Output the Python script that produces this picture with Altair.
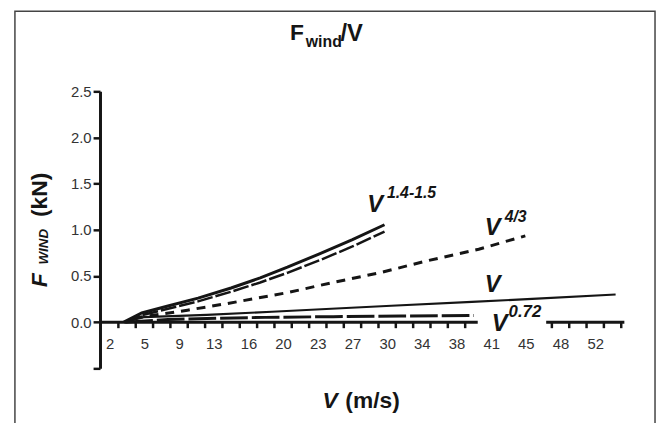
import json
import altair as alt
import pandas as pd

# ---- data (V on the chart's speed scale, F in kN) ----
v_hi = [3.45, 5.3, 8.0, 11.1, 14.5, 17.5, 20.3, 23.6, 27.0, 30.3]
f_hi = [0.0, 0.10, 0.175, 0.26, 0.37, 0.48, 0.595, 0.74, 0.895, 1.055]
v_lo = [3.6, 5.3, 8.0, 11.1, 14.5, 17.5, 20.3, 23.6, 27.0, 30.3]
f_lo = [0.0, 0.075, 0.145, 0.225, 0.33, 0.43, 0.535, 0.67, 0.82, 0.98]
v_43 = [4.5, 7.2, 10.0, 14.0, 20.3, 25.0, 30.0, 34.5, 40.0, 44.8]
f_43 = [0.045, 0.085, 0.13, 0.20, 0.32, 0.43, 0.54, 0.66, 0.79, 0.935]
v_1 = [3.5, 5.5, 12.0, 18.7, 24.3, 31.0, 39.3, 46.0, 54.1]
f_1 = [0.0, 0.055, 0.08, 0.113, 0.143, 0.178, 0.22, 0.255, 0.30]
v_072 = [3.6, 8.0, 13.0, 18.0, 25.0, 32.0, 39.5]
f_072 = [0.0, 0.03, 0.042, 0.052, 0.06, 0.066, 0.072]

x_labels = ["2", "5", "9", "13", "16", "20", "23", "27", "30", "34", "38", "41", "45", "48", "52"]
y_ticks = [-0.5, 0.0, 0.5, 1.0, 1.5, 2.0, 2.5]

# axis geometry (on the speed scale)
label_pos = [2 + i * 50 / 14 for i in range(len(x_labels))]
tick_pos = [2 + (k + 0.5) * 25 / 14 for k in range(30) if not 21 <= k <= 24]
axis_segments = pd.DataFrame({"a": [1.0, 46.95], "b": [39.9, 55.0]})

INK = "#151515"
FONT = "Liberation Sans"

xs = alt.Scale(domain=[1, 55], nice=False, zero=False)
ys = alt.Scale(domain=[-0.5, 2.5], nice=False, zero=False)

label_expr = json.dumps(x_labels) + "[round((datum.value - 2) * 14 / 50)]"

x_axis = alt.Axis(
    values=label_pos, labelExpr=label_expr, domain=False, ticks=False, grid=False,
    title=None, offset=-46.67, labelPadding=15, labelFontSize=15, labelColor="#333",
    labelFont=FONT,
)
y_axis = alt.Axis(
    values=y_ticks, labelExpr="datum.value < 0 ? '' : format(datum.value, '.1f')",
    domainWidth=3, domainColor=INK, tickWidth=2.5, tickSize=7, tickColor=INK,
    labelFontSize=15, labelColor="#333", labelPadding=2, labelFont=FONT,
    title=None, grid=False,
)


def series(v, f):
    return pd.DataFrame({"V": v, "F": f})


def line(v, f, **kw):
    return alt.Chart(series(v, f)).mark_line(color=INK, **kw).encode(
        x=alt.X("V:Q", scale=xs, axis=x_axis),
        y=alt.Y("F:Q", scale=ys, axis=y_axis),
    )


hi = line(v_hi, f_hi, strokeWidth=3)
lo = line(v_lo, f_lo, strokeWidth=2.5, strokeDash=[16, 3])
l43 = line(v_43, f_43, strokeWidth=3, strokeDash=[9, 7])
l1 = line(v_1, f_1, strokeWidth=2.2)
l072 = line(v_072, f_072, strokeWidth=3, strokeDash=[28, 4])

x_domain = alt.Chart(axis_segments).mark_rule(color=INK, strokeWidth=3).encode(
    x=alt.X("a:Q", scale=xs, axis=x_axis), x2="b:Q",
    y=alt.YDatum(0, scale=ys, axis=y_axis),
)
x_ticks = alt.Chart(pd.DataFrame({"t": tick_pos})).mark_rule(color=INK, strokeWidth=2.5).encode(
    x=alt.X("t:Q", scale=xs, axis=x_axis),
    y=alt.YDatum(0, scale=ys, axis=y_axis), y2=alt.Y2Datum(-0.065),
)


def txt(text, x, y, size, italic=False, angle=0, weight="bold"):
    return alt.Chart(pd.DataFrame({"t": [text]})).mark_text(
        font=FONT, fontSize=size, fontWeight=weight,
        fontStyle="italic" if italic else "normal",
        align="left", baseline="alphabetic", angle=angle, color=INK,
    ).encode(text="t:N", x=alt.value(x), y=alt.value(y))


texts = [
    # title
    txt("F", 192, -52, 23),
    txt("wind", 208, -45, 16),
    txt("/V", 243, -51, 24),
    # x title
    txt("V", 225, 320, 23, italic=True),
    txt("(m/s)", 248, 320, 23),
    # y title (rotated)
    txt("F", -54, 198, 23, italic=True, angle=270),
    txt("WIND", -52.5, 175, 13.5, italic=True, angle=270),
    txt("(kN)", -54, 127, 23, angle=270),
    # curve labels
    txt("V", 270, 122, 24, italic=True),
    txt("1.4-1.5", 290, 108, 16, italic=True),
    txt("V", 389, 145, 24, italic=True),
    txt("4/3", 409, 132, 16, italic=True),
    txt("V", 389, 203, 24, italic=True),
    txt("V", 396, 242, 24, italic=True),
    txt("0.72", 413, 228, 17, italic=True),
]

frame = alt.Chart(pd.DataFrame({"k": [0]})).mark_rect(
    filled=False, stroke="#444", strokeWidth=1.5
).encode(x=alt.value(-86), x2=alt.value(561), y=alt.value(-81), y2=alt.value(360))

chart = alt.layer(
    hi, lo, l43, l1, l072, x_domain, x_ticks, frame, *texts
).properties(
    width=530, height=280,
    padding={"left": 93, "top": 82, "right": 33, "bottom": 53},
    autosize=alt.AutoSizeParams(type="none"),
    background="white",
).configure_view(stroke=None)

chart.save("out.html", embed_options={"renderer": "svg", "actions": False})
